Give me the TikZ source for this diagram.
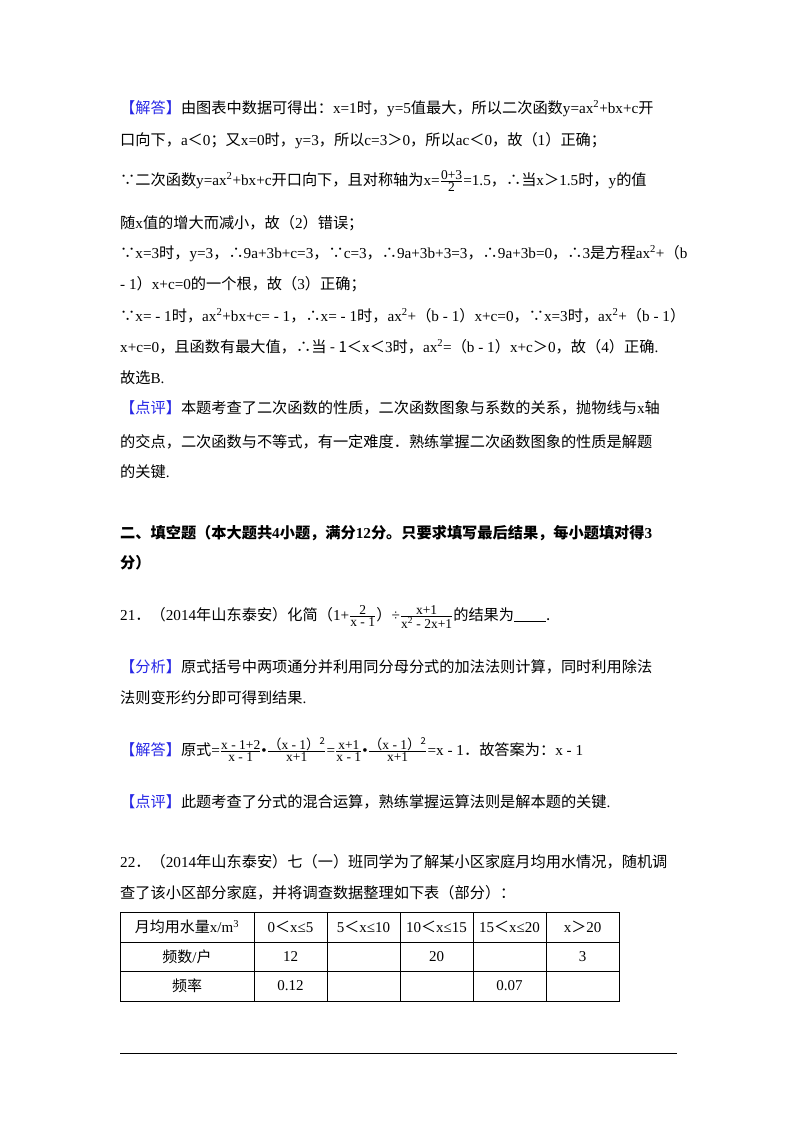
\documentclass[tikz,border=0pt]{standalone}
\usepackage{amsmath}
\usepackage{fontspec}
\setmainfont{Liberation Serif}
\newfontfamily\cjkf{Noto Sans CJK SC}
\makeatletter
\newXeTeXintercharclass\cjkclass
\count@="4E00 \loop\ifnum\count@<"A000 \XeTeXcharclass\count@=\cjkclass \advance\count@ 1 \repeat
\count@="3000 \loop\ifnum\count@<"3040 \XeTeXcharclass\count@=\cjkclass \advance\count@ 1 \repeat
\count@="FF00 \loop\ifnum\count@<"FF60 \XeTeXcharclass\count@=\cjkclass \advance\count@ 1 \repeat
\XeTeXcharclass"2234=\cjkclass \XeTeXcharclass"2235=\cjkclass
\XeTeXinterchartoks 0 \cjkclass = {\cjkf}
\XeTeXinterchartoks 4095 \cjkclass = {\cjkf}
\XeTeXinterchartoks \cjkclass 0 = {\rmfamily}
\makeatother
\definecolor{hblue}{RGB}{40,40,230}
\tikzset{ln/.style={anchor=base west,inner sep=0pt,font=\fontsize{15.2}{18}\selectfont},
 cell/.style={inner sep=0pt,font=\fontsize{15}{18}\selectfont}}
\newcommand{\hb}[1]{\textcolor{hblue}{#1}}
\newcommand{\sfr}[2]{\ensuremath{\frac{\text{\fontsize{13.5}{14}\selectfont #1}}{\text{\fontsize{13.5}{14}\selectfont #2}}}}
\begin{document}
\begin{tikzpicture}[x=1pt,y=-1pt]
\XeTeXinterchartokenstate=1
\useasboundingbox (0,0) rectangle (800,1132);
\node[ln] (l1) at (120,113) {\hb{【解答】}由图表中数据可得出：x=1时，y=5值最大，所以二次函数y=ax\textsuperscript{2}+bx+c开};
\node[ln] (l2) at (120,145) {口向下，a＜0；又x=0时，y=3，所以c=3＞0，所以ac＜0，故（1）正确；};
\node[ln] (l3) at (120,185) {∵二次函数y=ax\textsuperscript{2}+bx+c开口向下，且对称轴为x=\sfr{0+3}{2}=1.5，∴当x＞1.5时，y的值};
\node[ln] (l4) at (120,228) {随x值的增大而减小，故（2）错误；};
\node[ln] (l5) at (120,258) {∵x=3时，y=3，∴9a+3b+c=3，∵c=3，∴9a+3b+3=3，∴9a+3b=0，∴3是方程ax\textsuperscript{2}+（b};
\node[ln] (l6) at (120,289) { - 1）x+c=0的一个根，故（3）正确；};
\node[ln] (l7) at (120,321) {∵x= - 1时，ax\textsuperscript{2}+bx+c= - 1，∴x= - 1时，ax\textsuperscript{2}+（b - 1）x+c=0，∵x=3时，ax\textsuperscript{2}+（b - 1）};
\node[ln] (l8) at (120,352) {x+c=0，且函数有最大值，∴当 - 1＜x＜3时，ax\textsuperscript{2}=（b - 1）x+c＞0，故（4）正确.};
\node[ln] (l9) at (120,383) {故选B.};
\node[ln] (l10) at (120,413) {\hb{【点评】}本题考查了二次函数的性质，二次函数图象与系数的关系，抛物线与x轴};
\node[ln] (l11) at (120,447) {的交点，二次函数与不等式，有一定难度．熟练掌握二次函数图象的性质是解题};
\node[ln] (l12) at (120,477) {的关键.};
\node[ln,font=\fontsize{15.2}{18}\selectfont\bfseries] (h1) at (120,538) {二、填空题（本大题共4小题，满分12分。只要求填写最后结果，每小题填对得3};
\node[ln,font=\fontsize{15.2}{18}\selectfont\bfseries] (h2) at (120,568) {分）};
\node[ln] (q21) at (120,620) {21．（2014年山东泰安）化简（1+\sfr{2}{x - 1}）÷\sfr{x+1}{x\textsuperscript{2} - 2x+1}的结果为\rule[-2pt]{32pt}{0.8pt}.};
\node[ln] (a1) at (120,672) {\hb{【分析】}原式括号中两项通分并利用同分母分式的加法法则计算，同时利用除法};
\node[ln] (a2) at (120,703) {法则变形约分即可得到结果.};
\node[ln] (s1) at (120,755) {\hb{【解答】}原式=\sfr{x - 1+2}{x - 1}•\sfr{（x - 1）\textsuperscript{2}}{x+1}=\sfr{x+1}{x - 1}•\sfr{（x - 1）\textsuperscript{2}}{x+1}=x - 1．故答案为：x - 1};
\node[ln] (p1) at (120,807) {\hb{【点评】}此题考查了分式的混合运算，熟练掌握运算法则是解本题的关键.};
\node[ln] (q22) at (120,867) {22．（2014年山东泰安）七（一）班同学为了解某小区家庭月均用水情况，随机调};
\node[ln] (q22b) at (120,898) {查了该小区部分家庭，并将调查数据整理如下表（部分）：};
\draw[line width=0.8pt] (120,912) rectangle (619,1001);
\foreach \y in {942,971} \draw[line width=0.6pt] (120,\y) -- (619,\y);
\foreach \x in {254,327,400,473,546} \draw[line width=0.6pt] (\x,912) -- (\x,1001);
\node[cell] (c11) at (187,927) {月均用水量x/m\textsuperscript{3}};
\node[cell] (c12) at (290.5,927) {0＜x≤5};
\node[cell] (c13) at (363.5,927) {5＜x≤10};
\node[cell] (c14) at (436.5,927) {10＜x≤15};
\node[cell] (c15) at (509.5,927) {15＜x≤20};
\node[cell] (c16) at (582.5,927) {x＞20};
\node[cell] (c21) at (187,956.5) {频数/户};
\node[cell] (c22) at (290.5,956.5) {12};
\node[cell] (c24) at (436.5,956.5) {20};
\node[cell] (c26) at (582.5,956.5) {3};
\node[cell] (c31) at (187,986) {频率};
\node[cell] (c32) at (290.5,986) {0.12};
\node[cell] (c35) at (509.5,986) {0.07};
\draw[line width=0.8pt] (120,1053) -- (677,1053);
\end{tikzpicture}
\end{document}
